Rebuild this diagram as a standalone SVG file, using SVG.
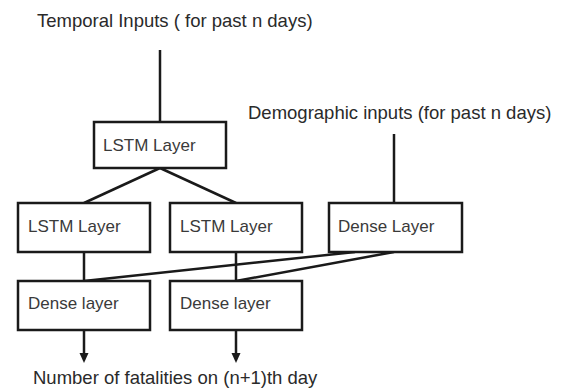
<svg xmlns="http://www.w3.org/2000/svg" width="563" height="389" viewBox="0 0 563 389">
<style>
.box{fill:#fff;stroke:#1a1a1a;stroke-width:2.5}
.lbl{font-family:"Liberation Sans",Arial,sans-serif;font-size:17px;fill:#3a3a3a}
.big{font-family:"Liberation Sans",Arial,sans-serif;font-size:18.5px;fill:#2a2a2a}
.ln{stroke:#1a1a1a;stroke-width:2.5;fill:none}
</style>
<defs>
<marker id="arr" markerWidth="10" markerHeight="10" refX="5" refY="5" orient="auto" markerUnits="userSpaceOnUse" viewBox="0 0 10 10">
<path d="M0,0.5 L10,5 L0,9.5 z" fill="#1a1a1a"/>
</marker>
</defs>
<rect width="563" height="389" fill="#fff"/>
<text class="big" x="37" y="27">Temporal Inputs ( for past n days)</text>
<text class="big" x="248" y="119">Demographic inputs (for past n days)</text>
<text class="big" x="33" y="384">Number of fatalities on (n+1)th day</text>
<g id="connectors">
<line class="ln" x1="160" y1="50" x2="160" y2="122"/>
<line class="ln" x1="160" y1="168" x2="84" y2="203"/>
<line class="ln" x1="160" y1="168" x2="236" y2="203"/>
<line class="ln" x1="394" y1="134" x2="394" y2="203"/>
<line class="ln" x1="84" y1="252" x2="84" y2="281"/>
<line class="ln" x1="236" y1="252" x2="236" y2="281"/>
<line class="ln" x1="355" y1="252" x2="84" y2="281"/>
<line class="ln" x1="394" y1="252" x2="236" y2="281"/>
<line class="ln" x1="84" y1="330" x2="84" y2="358" marker-end="url(#arr)"/>
<line class="ln" x1="236" y1="330" x2="236" y2="358" marker-end="url(#arr)"/>
</g>
<g id="lstm_top"><rect class="box" x="94" y="122" width="132" height="46"/><text class="lbl" x="103" y="151">LSTM Layer</text></g>
<g id="lstm_left"><rect class="box" x="18" y="203" width="132" height="49"/><text class="lbl" x="28" y="232">LSTM Layer</text></g>
<g id="lstm_right"><rect class="box" x="170" y="203" width="132" height="49"/><text class="lbl" x="180" y="232">LSTM Layer</text></g>
<g id="dense_top"><rect class="box" x="329" y="203" width="133" height="49"/><text class="lbl" x="338" y="232">Dense Layer</text></g>
<g id="dense_left"><rect class="box" x="18" y="281" width="132" height="49"/><text class="lbl" x="28" y="309">Dense layer</text></g>
<g id="dense_right"><rect class="box" x="170" y="281" width="132" height="49"/><text class="lbl" x="180" y="309">Dense layer</text></g>
</svg>
